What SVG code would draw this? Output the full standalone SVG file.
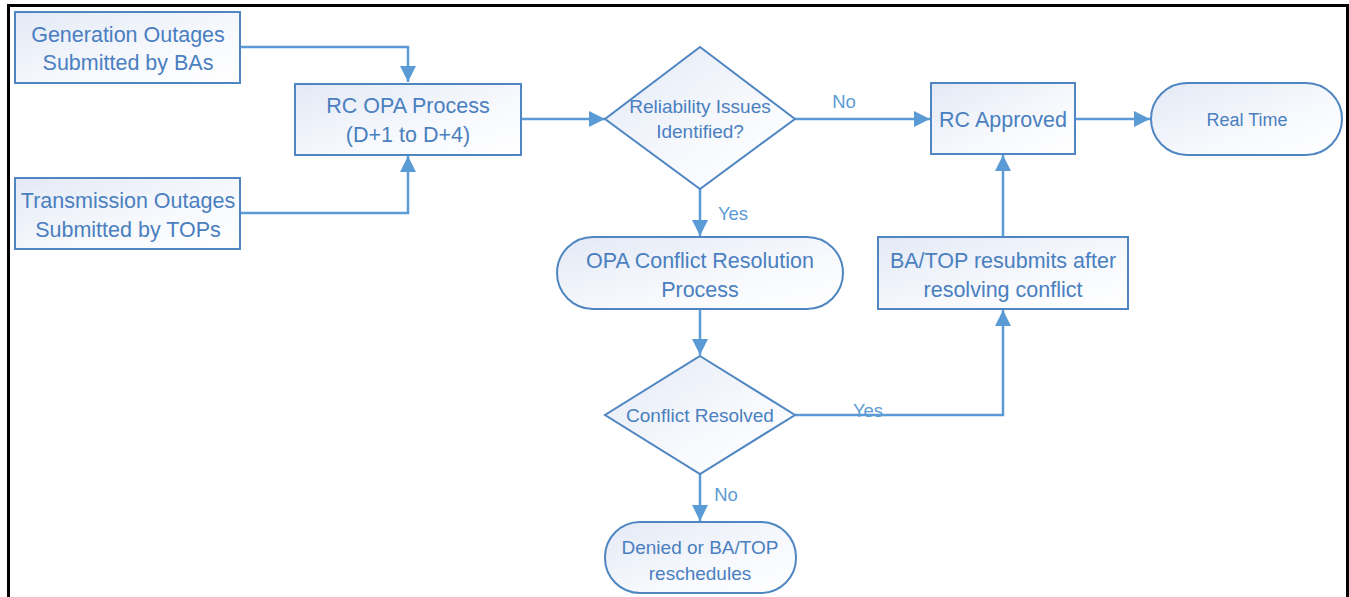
<svg xmlns="http://www.w3.org/2000/svg" width="1349" height="597" viewBox="0 0 1349 597">
<defs>
<linearGradient id="g" x1="0" y1="0" x2="1" y2="1">
<stop offset="0" stop-color="#e3e9f5"/>
<stop offset="0.6" stop-color="#f7f9fd"/>
<stop offset="1" stop-color="#ffffff"/>
</linearGradient>
<marker id="a" markerWidth="16" markerHeight="16" refX="16" refY="8" orient="auto" markerUnits="userSpaceOnUse">
<path d="M0,0 L16,8 L0,16 Z" fill="#5b9bd5"/>
</marker>
<style>
.n{fill:url(#g);stroke:#4f86c2;stroke-width:2}
.t{font-family:"Liberation Sans",Arial,sans-serif;font-size:21.5px;fill:#4a7fc0;text-anchor:middle}
.s{font-size:19px}
.r{font-size:18px}
.c{fill:none;stroke:#5b9bd5;stroke-width:2.5}
.l{font-family:"Liberation Sans",Arial,sans-serif;font-size:18.5px;fill:#5b9bd5}
</style>
</defs>
<rect x="0" y="0" width="1349" height="597" fill="#ffffff"/>
<path d="M8.5,600 V5.5 H1347.5 V600" fill="none" stroke="#000" stroke-width="3"/>
<g id="connectors">
<path class="c" d="M241,47 H408 V82" marker-end="url(#a)"/>
<path class="c" d="M241,213 H408 V156" marker-end="url(#a)"/>
<path class="c" d="M521,119 H605" marker-end="url(#a)"/>
<path class="c" d="M795,119 H930" marker-end="url(#a)"/>
<path class="c" d="M1075,119 H1150" marker-end="url(#a)"/>
<path class="c" d="M700,189 V236" marker-end="url(#a)"/>
<path class="c" d="M700,309 V355" marker-end="url(#a)"/>
<path class="c" d="M795,415 H1003 V310" marker-end="url(#a)"/>
<path class="c" d="M1003,237 V155" marker-end="url(#a)"/>
<path class="c" d="M700,474 V521" marker-end="url(#a)"/>
<text class="l" x="844" y="108" text-anchor="middle">No</text>
<text class="l" x="733" y="220" text-anchor="middle">Yes</text>
<text class="l" x="868" y="417" text-anchor="middle">Yes</text>
<text class="l" x="726" y="501" text-anchor="middle">No</text>
</g>
<g id="gen">
<rect class="n" x="15" y="12" width="225" height="71"/>
<text class="t" x="128" y="41.5">Generation Outages</text>
<text class="t" x="128" y="69.5">Submitted by BAs</text>
</g>
<g id="trans">
<rect class="n" x="15" y="178" width="225" height="71"/>
<text class="t" x="128" y="207.5">Transmission Outages</text>
<text class="t" x="128" y="236.5">Submitted by TOPs</text>
</g>
<g id="rcopa">
<rect class="n" x="295" y="84" width="226" height="71"/>
<text class="t" x="408" y="112.5">RC OPA Process</text>
<text class="t" x="408" y="141.5">(D+1 to D+4)</text>
</g>
<g id="reliability">
<path class="n" d="M700,47 L795,119 L700,189 L605,119 Z"/>
<text class="t s" x="700" y="112.5">Reliability Issues</text>
<text class="t s" x="700" y="137.5">Identified?</text>
</g>
<g id="rcapproved">
<rect class="n" x="931" y="83" width="144" height="71"/>
<text class="t" x="1003" y="126.5">RC Approved</text>
</g>
<g id="realtime">
<rect class="n" x="1151" y="83" width="191" height="72" rx="36" ry="36"/>
<text class="t r" x="1247" y="125.5">Real Time</text>
</g>
<g id="resubmit">
<rect class="n" x="878" y="237" width="250" height="72"/>
<text class="t" x="1003" y="267.5">BA/TOP resubmits after</text>
<text class="t" x="1003" y="296.5">resolving conflict</text>
</g>
<g id="opaconflict">
<rect class="n" x="557" y="237" width="286" height="72" rx="36" ry="36"/>
<text class="t" x="700" y="267.5">OPA Conflict Resolution</text>
<text class="t" x="700" y="296.5">Process</text>
</g>
<g id="conflictresolved">
<path class="n" d="M700,356 L795,415 L700,474 L605,415 Z"/>
<text class="t s" x="700" y="422">Conflict Resolved</text>
</g>
<g id="denied">
<rect class="n" x="605" y="522" width="191" height="71" rx="35" ry="35"/>
<text class="t s" x="700" y="553.5">Denied or BA/TOP</text>
<text class="t s" x="700" y="579.5">reschedules</text>
</g>
</svg>
